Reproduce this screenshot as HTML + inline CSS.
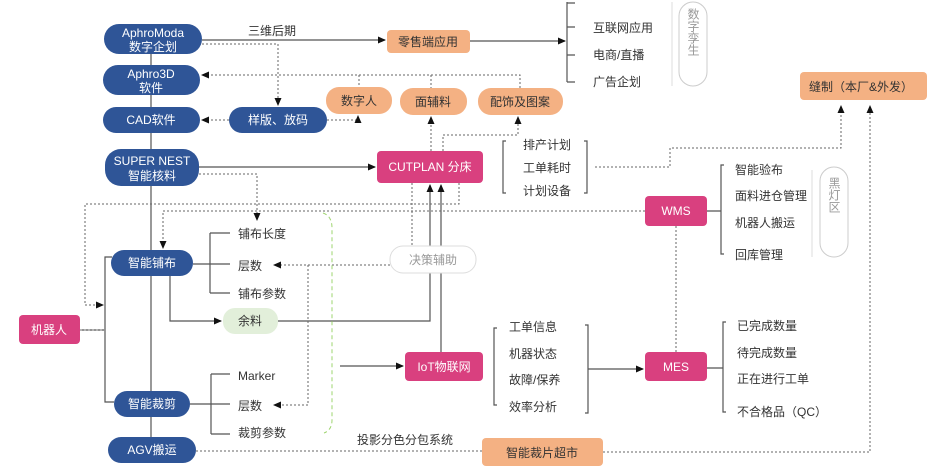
<!DOCTYPE html>
<html><head><meta charset="utf-8"><style>
body{margin:0;background:#fff;}
svg{display:block;font-family:"Liberation Sans","Noto Sans CJK SC",sans-serif;}
.b{fill:#2f5597;}
.o{fill:#f4b183;}
.p{fill:#d9407f;}
.wt{fill:#fff;font-size:12px;text-anchor:middle;}
.dt{fill:#333;font-size:12px;text-anchor:middle;}
.t{fill:#333;font-size:12px;}
.s{stroke:#555;stroke-width:1.2;fill:none;}
.d{stroke:#666;stroke-width:1;stroke-dasharray:2,2;fill:none;}
</style></head><body>
<svg width="927" height="467" viewBox="0 0 927 467">
<defs><marker id="a" markerWidth="8" markerHeight="8" refX="7" refY="4" orient="auto" markerUnits="userSpaceOnUse"><path d="M0,0.5 L8,4 L0,7.5z" fill="#111"/></marker></defs>

<!-- solid lines -->
<line x1="151" y1="54" x2="151" y2="437" class="s"/>
<path d="M202,40 H385" class="s" marker-end="url(#a)"/>
<path d="M470,41 H565" class="s" marker-end="url(#a)"/>
<path d="M567,2 V82 M567,3 H575 M567,27 H575 M567,55 H575 M567,82 H575" class="s"/>
<path d="M199,167 H375" class="s" marker-end="url(#a)"/>
<path d="M112,257 H105 V402 H114 M80,330 H105" class="s"/>
<path d="M193,264 H230 M210,233 V293 M210,233 H230 M210,293 H230" class="s"/>
<path d="M170,276 V321 H221" class="s" marker-end="url(#a)"/>
<path d="M278,321 H430 V185" class="s" marker-end="url(#a)"/>
<path d="M441,352 V185" class="s" marker-end="url(#a)"/>
<path d="M190,404 H230 M211,374 V434 M211,374 H230 M211,434 H230" class="s"/>
<path d="M340,366 H403" class="s" marker-end="url(#a)"/>
<path d="M497,328 H494 V405 H497 M585,325 H588 V413 H585 M588,369 H643" class="s" marker-end="url(#a)"/>
<path d="M506,141 H503 V193 H506 M584,141 H587 V193 H584" class="s"/>
<path d="M724,165 H721 V254 H724 M707,211 H721" class="s"/>
<path d="M726,322 H723 V412 H726 M707,368 H723" class="s"/>

<!-- dotted -->
<path d="M202,44 H278 V105" class="d" marker-end="url(#a)"/>
<path d="M229,120 H202" class="d" marker-end="url(#a)"/>
<path d="M327,120 H358 V116" class="d" marker-end="url(#a)"/>
<path d="M520,88 V75 H202" class="d" marker-end="url(#a)"/>
<path d="M359,75 V87 M431,75 V88" class="d"/>
<path d="M431,151 V117" class="d" marker-end="url(#a)"/>
<path d="M443,151 V135 H518 V117" class="d" marker-end="url(#a)"/>
<path d="M199,174 H257 V220" class="d" marker-end="url(#a)"/>
<path d="M459,183 V204 H85 V305 H103" class="d" marker-end="url(#a)"/>
<path d="M645,211 H163 V248" class="d" marker-end="url(#a)"/>
<path d="M412,183 V246" class="d"/>
<path d="M390,265 H274" class="d" marker-end="url(#a)"/>
<path d="M308,265 V405 H274" class="d" marker-end="url(#a)"/>
<path d="M595,167 H670 V148 H841 V106" class="d" marker-end="url(#a)"/>
<path d="M196,451 H482 M603,452 H870 V106" class="d" marker-end="url(#a)"/>
<path d="M676,226 V352" class="d"/>
<path d="M80,330 H105" stroke="#999" stroke-width="1" stroke-dasharray="2,2"/>
<path d="M323,213 Q332,216 332,228 V420 Q332,430 324,433" stroke="#9ed46f" stroke-width="1" stroke-dasharray="4,3" fill="none"/>

<!-- blue nodes -->
<rect x="104" y="24" width="98" height="30" rx="15" class="b"/>
<text x="153" y="37" class="wt">AphroModa</text><text x="153" y="51" class="wt">数字企划</text>
<rect x="103" y="65" width="97" height="30" rx="15" class="b"/>
<text x="151" y="78" class="wt">Aphro3D</text><text x="151" y="92" class="wt">软件</text>
<rect x="103" y="107" width="97" height="26" rx="13" class="b"/>
<text x="151" y="124" class="wt">CAD软件</text>
<rect x="229" y="107" width="98" height="26" rx="13" class="b"/>
<text x="278" y="124" class="wt">样版、放码</text>
<rect x="105" y="149" width="94" height="37" rx="16" class="b"/>
<text x="152" y="165" class="wt">SUPER NEST</text><text x="152" y="180" class="wt">智能核料</text>
<rect x="111" y="250" width="82" height="26" rx="13" class="b"/>
<text x="152" y="267" class="wt">智能铺布</text>
<rect x="114" y="391" width="76" height="26" rx="13" class="b"/>
<text x="152" y="408" class="wt">智能裁剪</text>
<rect x="108" y="437" width="88" height="26" rx="13" class="b"/>
<text x="152" y="454" class="wt">AGV搬运</text>

<!-- orange -->
<rect x="387" y="30" width="83" height="23" rx="4" class="o"/>
<text x="428" y="46" class="dt">零售端应用</text>
<rect x="326" y="87" width="66" height="27" rx="13" class="o"/>
<text x="359" y="105" class="dt">数字人</text>
<rect x="400" y="88" width="67" height="27" rx="13" class="o"/>
<text x="433" y="106" class="dt">面辅料</text>
<rect x="478" y="88" width="85" height="27" rx="13" class="o"/>
<text x="520" y="106" class="dt">配饰及图案</text>
<rect x="800" y="72" width="127" height="28" rx="4" class="o"/>
<text x="861" y="91" class="dt">缝制（本厂&amp;外发）</text>
<rect x="482" y="438" width="121" height="28" rx="4" class="o"/>
<text x="542" y="457" class="dt">智能裁片超市</text>

<!-- pink -->
<rect x="377" y="151" width="106" height="32" rx="4" class="p"/>
<text x="430" y="171" class="wt">CUTPLAN 分床</text>
<rect x="645" y="196" width="62" height="30" rx="4" class="p"/>
<text x="676" y="215" class="wt">WMS</text>
<rect x="405" y="352" width="78" height="29" rx="4" class="p"/>
<text x="444" y="371" class="wt">IoT物联网</text>
<rect x="645" y="352" width="62" height="29" rx="4" class="p"/>
<text x="676" y="371" class="wt">MES</text>
<rect x="19" y="315" width="61" height="29" rx="4" class="p"/>
<text x="49" y="334" class="wt">机器人</text>

<rect x="223" y="308" width="55" height="26" rx="12" fill="#e2efda"/>
<text x="250" y="325" class="dt">余料</text>
<rect x="390" y="246" width="86" height="27" rx="13" fill="#fff" stroke="#ddd"/>
<text x="433" y="264" class="dt" fill="#999" style="fill:#999">决策辅助</text>

<rect x="679" y="2" width="28" height="84" rx="14" fill="#fff" stroke="#ccc"/>
<text x="693" y="32" class="dt" style="fill:#999;writing-mode:tb">数字孪生</text>
<rect x="820" y="167" width="28" height="90" rx="14" fill="#fff" stroke="#ccc"/>
<text x="834" y="195" class="dt" style="fill:#999;writing-mode:tb">黑灯区</text>
<path d="M672,2 V86 M812,170 V257" stroke="#ddd" fill="none"/>

<!-- labels -->
<text x="248" y="35" class="t">三维后期</text>
<text x="593" y="32" class="t">互联网应用</text>
<text x="593" y="59" class="t">电商/直播</text>
<text x="593" y="86" class="t">广告企划</text>
<text x="523" y="149" class="t">排产计划</text>
<text x="523" y="172" class="t">工单耗时</text>
<text x="523" y="195" class="t">计划设备</text>
<text x="735" y="174" class="t">智能验布</text>
<text x="735" y="200" class="t">面料进仓管理</text>
<text x="735" y="227" class="t">机器人搬运</text>
<text x="735" y="259" class="t">回库管理</text>
<text x="238" y="238" class="t">铺布长度</text>
<text x="238" y="270" class="t">层数</text>
<text x="238" y="298" class="t">铺布参数</text>
<text x="238" y="380" class="t">Marker</text>
<text x="238" y="410" class="t">层数</text>
<text x="238" y="437" class="t">裁剪参数</text>
<text x="509" y="331" class="t">工单信息</text>
<text x="509" y="358" class="t">机器状态</text>
<text x="509" y="384" class="t">故障/保养</text>
<text x="509" y="411" class="t">效率分析</text>
<text x="737" y="330" class="t">已完成数量</text>
<text x="737" y="357" class="t">待完成数量</text>
<text x="737" y="383" class="t">正在进行工单</text>
<text x="737" y="416" class="t">不合格品（QC）</text>
<text x="357" y="444" class="t">投影分色分包系统</text>
</svg>
</body></html>
